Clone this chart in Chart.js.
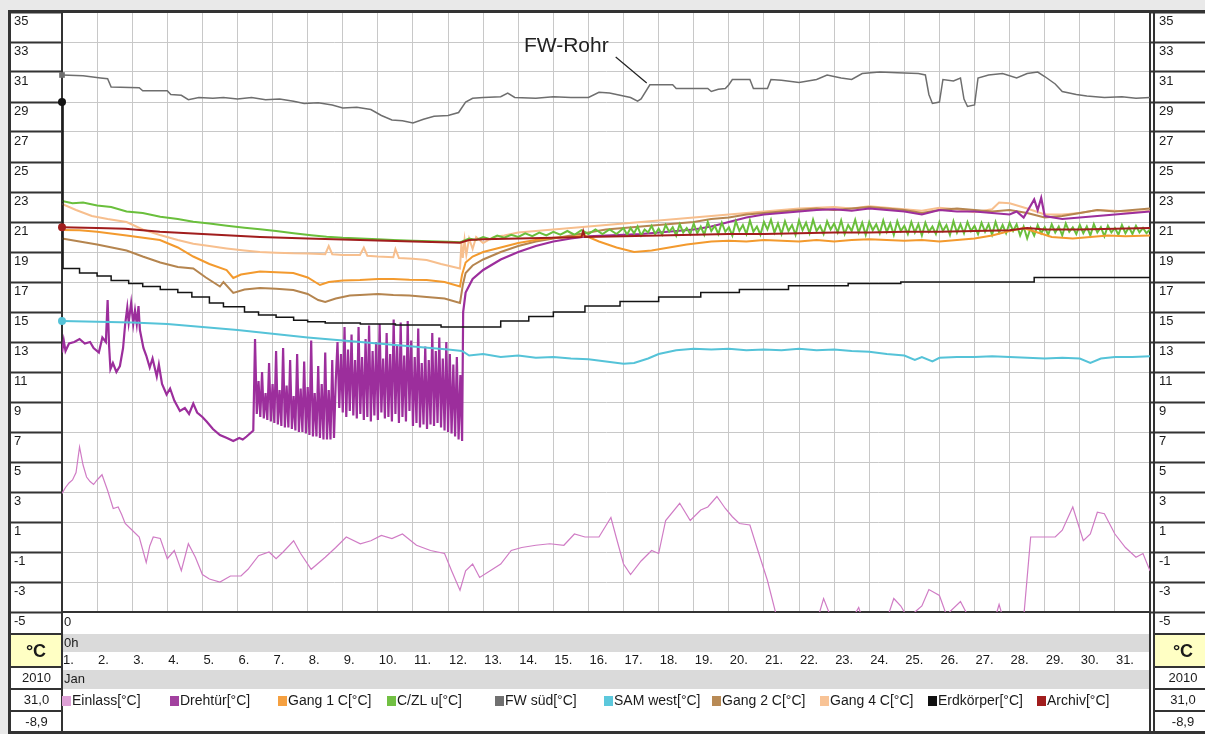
<!DOCTYPE html>
<html><head><meta charset="utf-8"><title>Temperaturen Januar 2010</title>
<script src="https://cdn.jsdelivr.net/npm/chart.js@4/dist/chart.umd.min.js"></script>
<style>
html,body{margin:0;padding:0;background:#e9e9e9;}
#wrap{position:relative;width:1205px;height:734px;overflow:hidden;font-family:"Liberation Sans",Arial,sans-serif;color:#1a1a1a;}
.a{position:absolute;}
.bg{z-index:0}
.dk{background:#333;position:absolute;z-index:2}
.t{position:absolute;z-index:2;font-size:13px;line-height:16px;white-space:nowrap;}
.c{text-align:center}
.lg{position:absolute;top:692px;font-size:14px;line-height:16px;white-space:nowrap;z-index:2}
.lg i{display:inline-block;width:9px;height:10px;margin-right:1px;vertical-align:-1px}
canvas{position:absolute;left:0;top:0;z-index:1}
</style></head><body>
<div id="wrap">
  <div class="a bg" style="left:11px;top:12px;width:1194px;height:722px;background:#fff"></div>
  <div class="a bg" style="left:62px;top:634px;width:1088px;height:18px;background:#dadada"></div>
  <div class="a bg" style="left:62px;top:670px;width:1088px;height:19px;background:#dadada"></div>
  <div class="a bg" style="left:11px;top:635px;width:50px;height:32px;background:#ffffc4"></div>
  <div class="a bg" style="left:1155px;top:635px;width:50px;height:32px;background:#ffffc4"></div>
  <canvas id="c" width="1205" height="734"></canvas>
  <div class="dk" style="left:8px;top:10px;width:1197px;height:3px"></div>
  <div class="dk" style="left:8px;top:10px;width:3px;height:724px"></div>
  <div class="dk" style="left:8px;top:731px;width:1197px;height:3px"></div>
  <div class="dk" style="left:61px;top:612px;width:2px;height:122px"></div>
  <div class="dk" style="left:1149px;top:612px;width:2px;height:122px"></div>
  <div class="dk" style="left:1153px;top:12px;width:2px;height:722px"></div>
  <div class="dk" style="left:11px;top:633px;width:51px;height:2px"></div>
  <div class="dk" style="left:11px;top:666px;width:51px;height:2px"></div>
  <div class="dk" style="left:11px;top:688px;width:51px;height:2px"></div>
  <div class="dk" style="left:11px;top:710px;width:51px;height:2px"></div>
  <div class="dk" style="left:1155px;top:633px;width:50px;height:2px"></div>
  <div class="dk" style="left:1155px;top:666px;width:50px;height:2px"></div>
  <div class="dk" style="left:1155px;top:688px;width:50px;height:2px"></div>
  <div class="dk" style="left:1155px;top:710px;width:50px;height:2px"></div>
  <div class="t" style="left:64px;top:614px">0</div>
  <div class="t" style="left:64px;top:635px">0h</div>
  <div class="t" style="left:64px;top:671px">Jan</div>
  <div class="t c" style="left:11px;top:640px;width:50px;font-size:18px;line-height:22px;font-weight:bold">°C</div>
  <div class="t c" style="left:11px;top:670px;width:51px">2010</div>
  <div class="t c" style="left:11px;top:692px;width:51px">31,0</div>
  <div class="t c" style="left:11px;top:714px;width:51px">-8,9</div>
  <div class="t c" style="left:1155px;top:640px;width:56px;font-size:18px;line-height:22px;font-weight:bold">°C</div>
  <div class="t c" style="left:1155px;top:670px;width:56px">2010</div>
  <div class="t c" style="left:1155px;top:692px;width:56px">31,0</div>
  <div class="t c" style="left:1155px;top:714px;width:56px">-8,9</div>
  <div id="legend"></div>
</div>
<script>
// ---------- data ----------
const dayLabels = ['1.','2.','3.','4.','5.','6.','7.','8.','9.','10.','11.','12.','13.','14.','15.','16.','17.','18.','19.','20.','21.','22.','23.','24.','25.','26.','27.','28.','29.','30.','31.'];
const yTickValues = [-5,-3,-1,1,3,5,7,9,11,13,15,17,19,21,23,25,27,29,31,33,35];
const seriesNames = ['Einlass[°C]','Drehtür[°C]','Gang 1 C[°C]','C/ZL u[°C]','FW süd[°C]','SAM west[°C]','Gang 2 C[°C]','Gang 4 C[°C]','Erdkörper[°C]','Archiv[°C]'];

const einlass = [[1.0,2.9],[1.1,3.3],[1.2,3.6],[1.3,3.8],[1.4,4.3],[1.5,6.0],[1.6,4.8],[1.7,4.0],[1.8,3.7],[1.9,3.5],[2.0,3.8],[2.14,4.15],[2.3,3.1],[2.46,1.9],[2.6,2.0],[2.7,1.5],[2.8,0.9],[3.0,0.45],[3.2,0.0],[3.4,-1.7],[3.5,-0.6],[3.6,0.0],[3.8,-0.1],[4.0,-1.45],[4.2,-0.9],[4.4,-2.25],[4.6,-0.45],[4.8,-1.35],[5.0,-2.5],[5.2,-2.8],[5.5,-3.0],[5.8,-2.6],[6.1,-2.6],[6.3,-2.15],[6.6,-1.25],[6.9,-1.0],[7.1,-1.45],[7.3,-1.0],[7.6,-0.25],[7.8,-1.1],[8.1,-2.15],[8.5,-1.35],[8.8,-0.7],[9.1,0.0],[9.5,-0.45],[9.8,-0.25],[10.1,0.1],[10.4,-0.1],[10.7,0.2],[11.1,-0.55],[11.5,-0.9],[11.9,-1.1],[12.1,-2.25],[12.34,-3.55],[12.5,-2.25],[12.7,-1.8],[12.9,-2.7],[13.2,-2.25],[13.5,-1.8],[13.8,-0.9],[14.1,-0.7],[14.5,-0.55],[14.9,-0.45],[15.3,-0.55],[15.6,0.2],[15.9,0.0],[16.3,0.0],[16.64,1.3],[16.8,-0.1],[17.0,-1.8],[17.2,-2.5],[17.5,-1.6],[17.8,-0.9],[18.0,-1.1],[18.2,1.1],[18.6,2.25],[18.9,1.1],[19.2,1.8],[19.4,2.0],[19.66,2.7],[19.9,1.9],[20.1,1.35],[20.3,0.9],[20.6,0.8],[20.8,-0.7],[21.1,-2.9],[21.35,-5.2],[21.6,-6.5],[22.4,-6.5],[22.7,-4.1],[22.9,-5.3],[23.5,-5.5],[23.7,-4.7],[23.8,-5.4],[24.5,-5.5],[24.7,-4.1],[24.9,-4.6],[25.1,-5.4],[25.5,-4.6],[25.7,-3.5],[26.0,-3.9],[26.2,-5.2],[26.6,-4.3],[26.8,-5.2],[27.6,-5.3],[27.7,-4.5],[27.8,-5.3],[28.4,-5.4],[28.6,0.0],[29.3,0.0],[29.5,0.45],[29.8,2.0],[30.1,-0.25],[30.3,0.2],[30.5,1.65],[30.7,1.55],[31.0,0.2],[31.3,-0.7],[31.6,-1.35],[31.8,-1.1],[32.0,-2.25]];

const drehtuer = [[1.0,12.3],[1.05,13.1],[1.1,12.4],[1.2,12.9],[1.35,13.0],[1.5,13.2],[1.65,12.9],[1.8,13.0],[1.9,12.6],[2.05,12.3],[2.15,13.3],[2.25,13.0],[2.3,15.8],[2.34,12.8],[2.38,11.2],[2.45,11.6],[2.55,11.0],[2.65,11.4],[2.74,12.6],[2.8,14.2],[2.86,15.3],[2.9,14.3],[2.97,15.6],[3.03,14.2],[3.08,15.1],[3.13,14.2],[3.18,15.4],[3.22,13.8],[3.32,12.6],[3.4,12.1],[3.5,11.3],[3.58,11.9],[3.7,10.7],[3.76,11.5],[3.85,10.2],[3.98,9.5],[4.08,9.9],[4.2,9.1],[4.36,8.4],[4.5,8.6],[4.62,8.2],[4.74,8.9],[4.85,8.3],[5.0,8.0],[5.12,7.7],[5.3,7.2],[5.5,6.8],[5.7,6.6],[5.88,6.4],[6.05,6.6],[6.15,6.5],[6.26,6.7],[6.45,7.1],
[6.5,13.2],[6.55,8.2],[6.6,10.4],[6.65,8.0],[6.7,11.0],[6.75,7.9],[6.8,9.6],[6.85,7.8],[6.9,11.6],[6.95,7.7],[7.0,10.2],[7.05,7.6],[7.1,12.4],[7.15,7.5],[7.2,9.8],[7.25,7.4],[7.3,12.6],[7.35,7.3],[7.4,10.1],[7.45,7.3],[7.5,11.8],[7.55,7.2],[7.6,9.4],[7.65,7.1],[7.7,12.2],[7.75,7.0],[7.8,9.9],[7.85,7.0],[7.9,11.7],[7.95,6.9],[8.0,10.0],[8.05,6.8],[8.1,13.1],[8.15,6.7],[8.2,9.6],[8.25,6.7],[8.3,11.4],[8.35,6.6],[8.4,10.2],[8.45,6.5],[8.5,12.3],[8.55,6.5],[8.6,9.8],[8.65,6.5],[8.7,11.8],[8.75,6.6],[8.8,10.4],
[8.85,13.0],[8.9,8.6],[8.95,12.2],[9.0,8.3],[9.05,14.0],[9.1,8.0],[9.15,12.5],[9.2,8.4],[9.25,13.5],[9.3,8.1],[9.35,11.8],[9.4,7.9],[9.45,14.0],[9.5,8.2],[9.55,12.0],[9.6,7.8],[9.65,13.2],[9.7,8.0],[9.75,14.1],[9.8,7.7],[9.85,12.4],[9.9,8.1],[9.95,13.0],[10.0,7.8],[10.05,14.2],[10.1,8.3],[10.15,11.9],[10.2,7.9],[10.25,13.6],[10.3,8.0],[10.35,12.2],[10.4,7.7],[10.45,14.5],[10.5,8.2],[10.55,12.8],[10.6,7.6],[10.65,14.3],[10.7,8.0],[10.75,12.1],[10.8,7.7],[10.85,14.4],[10.9,8.4],[10.95,13.1],[11.0,7.4],[11.05,12.0],[11.1,7.6],[11.15,13.9],[11.2,7.3],[11.25,11.6],[11.3,7.5],[11.35,12.7],[11.4,7.2],[11.45,11.8],[11.5,7.5],[11.55,13.6],[11.6,7.4],[11.65,12.4],[11.7,7.6],[11.75,13.3],[11.8,7.3],[11.85,11.9],[11.9,7.1],[11.95,13.0],[12.0,7.0],[12.05,12.2],[12.1,6.9],[12.15,11.5],[12.2,6.7],[12.25,12.0],[12.3,6.5],[12.35,10.8],[12.4,6.4],
[12.43,15.0],[12.5,16.3],[12.7,17.2],[13.0,17.8],[13.5,18.5],[14.0,19.0],[14.5,19.4],[15.0,19.7],[15.5,19.9],[16.0,20.05],[16.5,20.1],[17.0,20.15],[17.5,20.2],[18.0,20.3],[18.5,20.4],[19.0,20.5],[19.5,20.7],[20.0,21.0],[20.5,21.3],[21.0,21.5],[21.5,21.6],[22.0,21.7],[22.5,21.8],[23.0,21.85],[23.5,21.75],[24.0,21.9],[24.5,21.8],[25.0,21.7],[25.5,21.5],[26.0,21.8],[26.5,21.7],[27.0,21.7],[27.5,21.6],[28.0,21.5],[28.2,21.7],[28.4,21.3],[28.6,22.1],[28.7,22.5],[28.8,21.8],[28.9,22.6],[29.0,21.4],[29.5,21.2],[30.0,21.3],[30.5,21.4],[31.0,21.5],[31.5,21.6],[32.0,21.7]];

const gang1 = [[1.0,20.47],[1.5,20.45],[2.0,20.35],[2.84,20.1],[3.79,19.8],[4.3,19.3],[4.74,18.7],[5.2,18.2],[5.69,17.8],[5.88,17.27],[6.1,17.5],[6.64,17.7],[7.1,17.65],[7.59,17.6],[8.0,17.3],[8.35,16.8],[8.6,17.0],[9.0,17.1],[9.49,17.13],[10.0,17.2],[10.44,17.2],[10.9,17.15],[11.39,17.13],[11.9,17.0],[12.34,16.7],[12.4,17.5],[12.5,18.3],[12.7,18.7],[13.0,19.0],[13.5,19.3],[14.0,19.6],[14.5,19.8],[15.0,19.95],[15.5,20.0],[15.9,20.1],[16.3,19.7],[16.8,19.3],[17.3,19.0],[17.8,19.1],[18.3,19.3],[18.8,19.5],[19.5,19.7],[20.0,19.75],[20.5,19.7],[21.0,19.8],[21.5,19.75],[22.0,19.7],[22.5,19.8],[23.0,19.7],[23.5,19.8],[24.0,19.85],[24.5,19.8],[25.0,19.75],[25.5,19.8],[26.0,19.7],[26.5,19.8],[27.0,19.9],[27.5,20.1],[28.0,20.4],[28.4,20.6],[28.8,20.3],[29.2,20.0],[29.8,19.9],[30.3,20.0],[30.8,20.1],[31.3,20.05],[32.0,20.1]];

const czlu = [[1.0,22.4],[1.3,22.25],[1.6,22.3],[2.0,22.1],[2.4,22.0],[2.84,21.7],[3.3,21.6],[3.8,21.35],[4.3,21.2],[4.74,21.02],[5.2,20.9],[5.7,20.75],[6.2,20.62],[6.64,20.51],[7.1,20.4],[7.6,20.25],[8.1,20.12],[8.54,20.02],[9.0,19.95],[9.5,19.9],[10.0,19.85],[10.44,19.8],[11.0,19.75],[11.5,19.72],[12.0,19.68],[12.34,19.65],
[12.4,19.7],[12.6,19.9],[12.8,19.8],[13.0,20.0],[13.2,19.85],[13.4,20.1],[13.6,19.95],[13.8,20.15],[14.0,20.0],[14.2,20.25],[14.4,20.05],[14.6,20.3],[14.8,20.1],[15.0,20.35],[15.2,20.15],[15.4,20.4],[15.6,20.15],[15.8,20.45],[16.0,20.2],[16.2,20.5],[16.4,20.2],[16.6,20.5],[16.8,20.2],[17.0,20.6],
[17.1,20.15],[17.2,20.6],[17.3,20.25],[17.4,20.7],[17.5,20.1],[17.6,20.5],[17.7,20.3],[17.8,20.75],[17.9,20.2],[18.0,20.55],[18.1,20.15],[18.2,20.8],[18.3,20.35],[18.4,20.65],[18.5,20.1],[18.6,20.85],[18.7,20.3],[18.8,20.6],[18.9,20.2],[19.0,20.9],[19.1,20.25],[19.2,20.7],[19.3,20.15],[19.4,21.0],[19.5,20.4],[19.6,20.75],[19.7,20.2],[19.8,20.95],[19.9,20.35],[20.0,20.65],[20.1,20.1],[20.2,21.05],[20.3,20.4],[20.4,20.8],[20.5,20.2],[20.6,21.1],[20.7,20.35],[20.8,20.7],[20.9,20.15],[21.0,21.0],[21.1,20.5],[21.2,21.15],[21.3,20.3],[21.4,20.9],[21.5,20.2],[21.6,21.05],[21.7,20.4],[21.8,20.8],[21.9,20.15],[22.0,21.1],[22.1,20.45],[22.2,20.95],[22.3,20.25],[22.4,21.15],[22.5,20.4],[22.6,20.75],[22.7,20.2],[22.8,21.05],[22.9,20.5],[23.0,20.9],[23.1,20.3],[23.2,21.1],[23.3,20.2],[23.4,20.8],[23.5,20.4],[23.6,21.15],[23.7,20.3],[23.8,20.95],[23.9,20.15],[24.0,21.0],[24.1,20.45],[24.2,20.85],[24.3,20.25],[24.4,21.1],[24.5,20.35],[24.6,20.9],[24.7,20.15],[24.8,21.05],[24.9,20.4],[25.0,20.75],[25.1,20.2],[25.2,21.0],[25.3,20.3],[25.4,20.85],[25.5,20.1],[25.6,20.95],[25.7,20.35],[25.8,20.7],[25.9,20.2],[26.0,21.0],[26.1,20.4],[26.2,20.8],[26.3,20.15],[26.4,21.05],[26.5,20.3],[26.6,20.85],[26.7,20.25],[26.8,21.0],[26.9,20.4],[27.0,20.75],[27.1,20.2],[27.2,20.95],[27.3,20.35],[27.4,20.85],[27.5,20.15],[27.6,21.0],[27.7,20.3],[27.8,20.8],[27.9,20.25],[28.0,20.95],[28.1,20.4],[28.2,20.85],[28.3,20.1],[28.4,20.7],[28.5,19.9],[28.6,20.6],[28.7,20.1],[28.8,20.8],[28.9,20.25],[29.0,20.65],[29.1,20.15],[29.2,20.85],[29.3,20.3],[29.4,20.7],[29.5,20.1],[29.6,20.9],[29.7,20.35],[29.8,20.65],[29.9,20.2],[30.0,20.8],[30.1,20.25],[30.2,20.7],[30.3,20.1],[30.4,20.85],[30.5,20.3],[30.6,20.65],[30.7,20.05],[30.8,20.75],[30.9,20.3],[31.0,20.6],[31.1,20.15],[31.2,20.8],[31.3,20.25],[31.4,20.65],[31.5,20.2],[31.6,20.75],[31.7,20.3],[31.8,20.6],[31.9,20.25],[32.0,20.5]];

const fwSued = [[1.0,30.8],[1.6,30.75],[2.1,30.6],[2.3,30.55],[2.4,30.0],[3.2,29.95],[3.3,29.75],[4.0,29.75],[4.1,29.5],[4.4,29.45],[4.6,29.15],[4.9,29.3],[5.3,29.25],[5.6,29.3],[6.0,29.2],[6.4,29.3],[6.8,29.15],[7.2,29.2],[7.6,29.05],[7.9,28.9],[8.3,28.95],[8.7,28.8],[9.0,28.6],[9.4,28.65],[9.8,28.5],[10.1,28.1],[10.4,27.8],[10.7,27.75],[11.0,27.6],[11.3,27.85],[11.6,28.05],[12.0,28.1],[12.3,28.3],[12.5,29.0],[12.7,29.25],[13.0,29.3],[13.5,29.35],[13.7,29.6],[13.9,29.3],[14.5,29.25],[15.0,29.35],[15.5,29.3],[16.0,29.3],[16.3,29.65],[16.6,29.6],[17.2,29.3],[17.4,29.05],[17.5,29.2],[17.75,30.15],[18.4,30.15],[18.5,29.9],[19.4,29.9],[19.5,29.7],[19.7,29.85],[19.9,29.9],[20.0,30.15],[20.1,30.5],[20.6,30.5],[20.7,29.9],[21.1,29.9],[21.2,30.5],[21.5,30.45],[22.0,30.3],[22.5,30.5],[22.8,30.8],[23.2,30.6],[23.5,30.5],[23.8,30.9],[24.3,31.0],[24.8,30.95],[25.4,30.9],[25.6,30.8],[25.7,29.5],[25.8,28.9],[26.0,29.0],[26.1,30.5],[26.4,30.4],[26.6,30.6],[26.7,29.2],[26.8,28.7],[27.0,28.8],[27.1,30.6],[27.4,30.8],[27.8,30.9],[28.2,30.6],[28.5,30.9],[28.8,31.0],[29.0,30.7],[29.3,30.2],[29.5,29.7],[29.9,29.5],[30.2,29.4],[30.7,29.3],[31.2,29.35],[31.6,29.25],[32.0,29.3]];

const samWest = [[1.0,14.4],[2.0,14.35],[3.0,14.3],[4.0,14.2],[5.0,14.0],[6.0,13.8],[7.0,13.55],[8.0,13.3],[9.0,13.1],[10.0,12.9],[11.0,12.7],[12.0,12.5],[12.4,12.4],[12.6,12.1],[13.0,12.2],[13.5,12.0],[14.0,12.1],[14.5,11.95],[15.0,12.0],[15.5,11.9],[16.0,11.85],[16.5,11.7],[17.0,11.55],[17.3,11.6],[17.7,11.9],[18.0,12.2],[18.5,12.45],[19.0,12.55],[19.5,12.5],[20.0,12.55],[20.5,12.45],[21.0,12.5],[21.5,12.45],[22.0,12.55],[22.5,12.45],[23.0,12.5],[23.5,12.4],[24.0,12.35],[24.5,12.2],[25.0,12.1],[25.3,11.8],[25.5,12.0],[25.8,11.7],[26.0,11.95],[26.5,12.0],[27.0,12.0],[27.5,12.05],[28.0,12.0],[28.5,11.95],[29.0,11.9],[29.5,11.95],[30.0,11.9],[30.3,11.6],[30.6,11.9],[31.0,12.0],[31.5,12.0],[32.0,12.05]];

const gang2 = [[1.0,19.9],[1.5,19.7],[2.0,19.5],[2.84,19.1],[3.3,18.7],[3.8,18.3],[4.3,18.0],[4.74,17.9],[5.1,17.3],[5.5,16.7],[5.6,17.0],[5.88,16.27],[6.2,16.5],[6.64,16.6],[7.1,16.55],[7.59,16.47],[8.0,16.2],[8.3,15.8],[8.5,15.67],[8.8,15.9],[9.2,16.1],[9.49,16.13],[10.0,16.2],[10.44,16.13],[10.9,16.1],[11.39,16.0],[11.9,15.9],[12.34,15.6],[12.42,16.8],[12.5,17.6],[12.7,18.1],[13.0,18.5],[13.5,19.0],[14.0,19.4],[14.5,19.7],[15.0,19.9],[15.5,20.1],[16.0,20.3],[16.5,20.5],[17.0,20.6],[17.5,20.7],[18.0,20.8],[18.5,20.9],[19.0,21.0],[19.5,21.2],[20.0,21.3],[20.5,21.5],[21.0,21.6],[21.5,21.7],[22.0,21.8],[22.5,21.9],[23.0,21.8],[23.5,21.9],[24.0,22.0],[24.5,21.9],[25.0,21.8],[25.5,21.6],[26.0,21.8],[26.5,21.9],[27.0,21.8],[27.5,21.7],[28.0,21.8],[28.5,21.6],[29.0,21.3],[29.5,21.4],[30.0,21.6],[30.5,21.8],[31.0,21.7],[31.5,21.8],[32.0,21.9]];

const gang4 = [[1.0,22.2],[1.4,21.8],[1.85,21.4],[2.3,21.2],[2.84,21.0],[3.3,20.5],[3.79,20.13],[4.3,19.8],[4.74,19.55],[5.2,19.4],[5.69,19.24],[6.2,19.1],[6.64,19.0],[7.1,18.95],[7.59,18.91],[8.0,18.9],[8.5,18.85],[8.6,19.4],[8.7,18.85],[9.0,18.8],[9.49,18.8],[9.6,19.3],[9.7,18.75],[10.0,18.7],[10.44,18.65],[10.5,19.2],[10.6,18.6],[11.0,18.55],[11.39,18.47],[11.8,18.2],[12.34,17.9],[12.38,19.6],[12.42,18.6],[12.47,19.8],[12.52,18.8],[12.6,19.9],[12.7,19.2],[12.8,20.0],[13.0,19.6],[13.3,20.0],[13.6,20.1],[14.0,20.3],[14.5,20.4],[15.0,20.5],[15.5,20.6],[16.0,20.7],[16.5,20.8],[17.0,20.9],[17.5,21.0],[18.0,21.1],[18.5,21.2],[19.0,21.3],[19.5,21.4],[20.0,21.5],[20.5,21.6],[21.0,21.7],[21.5,21.8],[22.0,21.9],[22.5,21.95],[23.0,22.0],[23.5,21.9],[24.0,22.05],[24.5,21.95],[25.0,21.85],[25.5,21.75],[26.0,21.95],[26.5,21.85],[27.0,21.65],[27.5,21.85],[27.7,22.3],[28.0,22.25],[28.5,21.9],[29.0,21.5],[29.5,21.5],[30.0,21.6],[30.5,21.8],[31.0,21.75],[31.5,21.65],[32.0,21.75]];

const erdkoerper = [[1.0,29.0],[1.03,17.9],[1.5,17.6],[2.0,17.4],[2.4,17.1],[2.9,16.9],[3.3,16.7],[3.8,16.5],[4.3,16.3],[4.7,16.0],[5.2,15.6],[5.6,15.35],[6.2,15.0],[6.6,14.8],[7.1,14.65],[7.6,14.45],[8.0,14.35],[8.5,14.27],[9.5,14.2],[10.5,14.13],[11.8,14.0],[13.5,14.4],[14.3,14.7],[15.0,15.0],[15.9,15.4],[16.9,15.7],[18.0,16.0],[19.2,16.3],[20.3,16.5],[21.7,16.75],[23.4,16.9],[24.9,17.0],[28.7,17.3],[32.0,17.3]];

const archiv = [[1.0,20.65],[2.0,20.6],[2.8,20.55],[3.79,20.35],[5.0,20.2],[6.64,20.0],[8.0,19.9],[9.49,19.8],[11.0,19.7],[12.34,19.62],[12.6,19.8],[13.0,19.85],[14.0,19.9],[15.0,19.95],[15.8,20.0],[15.85,20.4],[15.9,20.0],[17.0,20.05],[18.0,20.1],[19.0,20.15],[20.0,20.2],[21.0,20.2],[22.0,20.25],[23.0,20.3],[24.0,20.3],[25.0,20.35],[26.0,20.35],[27.0,20.4],[28.0,20.45],[28.5,20.6],[29.0,20.5],[30.0,20.5],[31.0,20.55],[32.0,20.6]];

const annotText = 'FW-Rohr';
const annotAt = [17.66, 30.2];

// ---------- styles ----------
const FONT = '"Liberation Sans", Arial, sans-serif';
const seriesStyle = [
  {data: einlass,    color:'#d07cc5', legend:'#dea0d6', width:1.2, order:9},
  {data: drehtuer,   color:'#9c2e9c', legend:'#a2419f', width:2.2, order:5},
  {data: gang1,      color:'#f39a2e', legend:'#f5a040', width:2,   order:3},
  {data: czlu,       color:'#6abf3c', legend:'#72c043', width:2,   order:4},
  {data: fwSued,     color:'#6e6e6e', legend:'#707070', width:1.5, order:8, marker:'rect'},
  {data: samWest,    color:'#55c3d8', legend:'#5cc8dc', width:2,   order:0, marker:'circle'},
  {data: gang2,      color:'#b5854f', legend:'#b88a55', width:2,   order:6},
  {data: gang4,      color:'#f7bf8e', legend:'#f8c396', width:2,   order:7},
  {data: erdkoerper, color:'#141414', legend:'#111111', width:1.5, order:2, marker:'circle', stepped:true},
  {data: archiv,     color:'#a11d1d', legend:'#a11d1d', width:2,   order:1, marker:'circle'}
];
const legendX = [62,170,278,387,495,604,712,820,928,1037];

const datasets = seriesStyle.map((s,i)=>({
  label: seriesNames[i],
  data: s.data.map(p=>({x:p[0], y:p[1]})),
  borderColor: s.color,
  backgroundColor: s.color,
  borderWidth: s.width,
  order: s.order,
  stepped: s.stepped || false,
  tension: 0,
  fill: false,
  clip: s.marker ? false : undefined,
  pointStyle: s.marker || 'circle',
  pointRadius: s.marker ? (c => c.dataIndex === 0 ? 4 : 0) : 0,
  pointBorderWidth: 0,
  pointBackgroundColor: s.color,
  pointHoverRadius: 0
}));

const lg = document.getElementById('legend');
seriesNames.forEach((n,i)=>{
  const d = document.createElement('div');
  d.className = 'lg';
  d.style.left = legendX[i] + 'px';
  const sq = document.createElement('i');
  sq.style.background = seriesStyle[i].legend;
  d.appendChild(sq);
  d.appendChild(document.createTextNode(n));
  lg.appendChild(d);
});

const annotPlugin = {
  id: 'annot',
  afterDatasetsDraw(chart){
    const {ctx, scales} = chart;
    const ax = scales.x.getPixelForValue(annotAt[0]);
    const ay = scales.y.getPixelForValue(annotAt[1]);
    ctx.save();
    ctx.strokeStyle = '#222'; ctx.lineWidth = 1.2;
    ctx.beginPath(); ctx.moveTo(ax, ay - 1); ctx.lineTo(ax - 31, ay - 27); ctx.stroke();
    ctx.font = '21px ' + FONT; ctx.fillStyle = '#222';
    ctx.textAlign = 'right'; ctx.textBaseline = 'alphabetic';
    ctx.fillText(annotText, ax - 38, ay - 32);
    ctx.restore();
  }
};

new Chart(document.getElementById('c'), {
  type: 'line',
  data: { datasets },
  options: {
    responsive: false,
    animation: false,
    devicePixelRatio: 1,
    events: [],
    layout: { padding: { left: 14, top: 12, right: 0, bottom: 0 } },
    plugins: { legend: { display: false }, tooltip: { enabled: false } },
    scales: {
      x: {
        type: 'linear', position: 'bottom', min: 1, max: 32,
        afterBuildTicks: s => { s.ticks = dayLabels.map((l,i)=>({value: i+1})).concat([{value:32}]); },
        ticks: { autoSkip: false, maxRotation: 0, minRotation: 0, align: 'start', labelOffset: 1, padding: 41,
                 color: '#1a1a1a', font: { size: 13, family: FONT },
                 callback: v => dayLabels[v-1] || '' },
        grid: { color: '#c8c8c8', lineWidth: 1, drawTicks: false },
        border: { display: true, color: '#333', width: 2 },
        afterFit: s => { s.height = 122; }
      },
      y: {
        type: 'linear', position: 'left', min: -5, max: 35,
        afterBuildTicks: s => { s.ticks = yTickValues.map(v=>({value:v})); },
        ticks: { autoSkip: false, crossAlign: 'far', labelOffset: 9, color: '#1a1a1a',
                 font: { size: 13, family: FONT }, callback: v => String(v) },
        grid: { color: '#c8c8c8', lineWidth: 1, drawTicks: true, tickLength: 51, tickColor: '#333', tickWidth: 2 },
        border: { display: true, color: '#333', width: 2 },
        afterFit: s => { s.width = 48; }
      },
      y2: {
        type: 'linear', position: 'right', min: -5, max: 35,
        afterBuildTicks: s => { s.ticks = yTickValues.map(v=>({value:v})); },
        ticks: { autoSkip: false, crossAlign: 'near', padding: -46, labelOffset: 9, color: '#1a1a1a',
                 font: { size: 13, family: FONT }, callback: v => String(v) },
        grid: { drawOnChartArea: false, drawTicks: true, tickLength: 55, tickColor: '#333', tickWidth: 2 },
        border: { display: true, color: '#333', width: 2 },
        afterFit: s => { s.width = 55; }
      }
    }
  },
  plugins: [annotPlugin]
});
</script>
</body></html>
